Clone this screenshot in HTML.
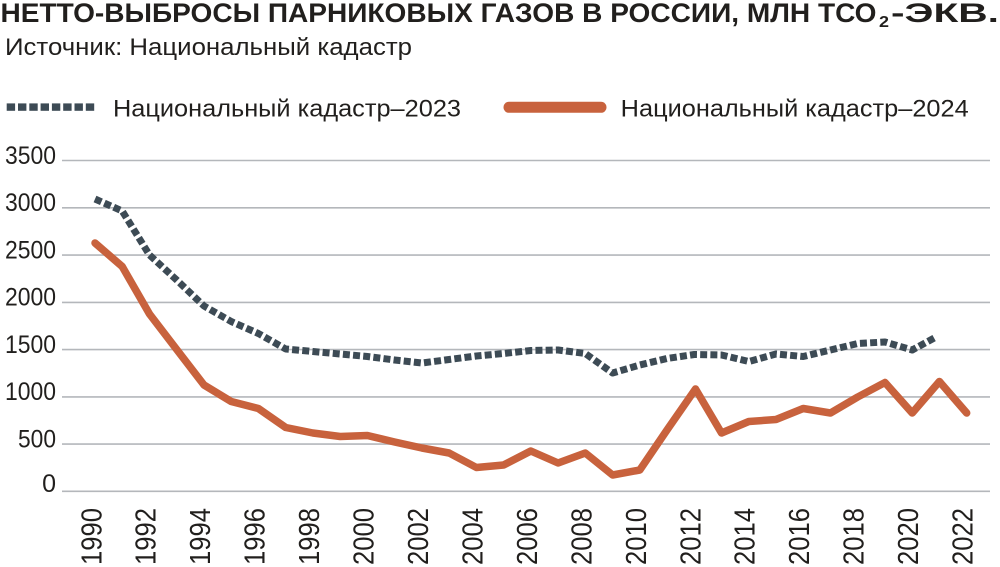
<!DOCTYPE html>
<html>
<head>
<meta charset="utf-8">
<style>
  html, body { margin: 0; padding: 0; background: #ffffff; }
  body { width: 1000px; height: 567px; overflow: hidden; }
  svg { display: block; }
  text { font-family: "Liberation Sans", "DejaVu Sans", sans-serif; fill: #211f1d; }
</style>
</head>
<body>
<svg width="1000" height="567" viewBox="0 0 1000 567" xmlns="http://www.w3.org/2000/svg">
  <rect x="0" y="0" width="1000" height="567" fill="#ffffff"/>

  <!-- Title -->
  <text x="0.5" y="22" font-size="27" font-weight="bold" textLength="876" lengthAdjust="spacingAndGlyphs" fill="#1c1a18">НЕТТО-ВЫБРОСЫ ПАРНИКОВЫХ ГАЗОВ В РОССИИ, МЛН ТСО</text>
  <text x="879" y="27" font-size="16" font-weight="bold" textLength="10" lengthAdjust="spacingAndGlyphs" fill="#1c1a18">2</text>
  <text x="891" y="22" font-size="27" font-weight="bold" textLength="108" lengthAdjust="spacingAndGlyphs" fill="#1c1a18">-ЭКВ.</text>

  <!-- Subtitle -->
  <text x="5" y="55" font-size="24.5" textLength="407" lengthAdjust="spacingAndGlyphs" fill="#2a2725">Источник: Национальный кадастр</text>

  <!-- Legend -->
  <g fill="#3d4b55">
    <rect x="6.7" y="103.4" width="8.4" height="7.4"/>
    <rect x="18" y="103.4" width="8.4" height="7.4"/>
    <rect x="29.3" y="103.4" width="8.4" height="7.4"/>
    <rect x="40.6" y="103.4" width="8.4" height="7.4"/>
    <rect x="51.9" y="103.4" width="8.4" height="7.4"/>
    <rect x="63.2" y="103.4" width="8.4" height="7.4"/>
    <rect x="74.5" y="103.4" width="8.4" height="7.4"/>
    <rect x="85.8" y="103.4" width="8.4" height="7.4"/>
  </g>
  <text x="113" y="116.5" font-size="24.5" textLength="348" lengthAdjust="spacingAndGlyphs" fill="#2a2725">Национальный кадастр–2023</text>
  <line x1="509" y1="107.3" x2="601" y2="107.3" stroke="#c8623d" stroke-width="11" stroke-linecap="round"/>
  <text x="620.7" y="116.5" font-size="24.5" textLength="348" lengthAdjust="spacingAndGlyphs" fill="#2a2725">Национальный кадастр–2024</text>

  <!-- Gridlines -->
  <g stroke="#b4b7bb" stroke-width="1.6">
    <line x1="62" y1="160.5" x2="990" y2="160.5"/>
    <line x1="62" y1="207.8" x2="990" y2="207.8"/>
    <line x1="62" y1="255.1" x2="990" y2="255.1"/>
    <line x1="62" y1="302.4" x2="990" y2="302.4"/>
    <line x1="62" y1="349.6" x2="990" y2="349.6"/>
    <line x1="62" y1="396.9" x2="990" y2="396.9"/>
    <line x1="62" y1="444.1" x2="990" y2="444.1"/>
    <line x1="62" y1="491.3" x2="990" y2="491.3"/>
  </g>

  <!-- Y labels -->
  <g font-size="25" text-anchor="end" fill="#211f1d">
    <text x="56" y="163.8" textLength="51" lengthAdjust="spacingAndGlyphs">3500</text>
    <text x="56" y="211.1" textLength="51" lengthAdjust="spacingAndGlyphs">3000</text>
    <text x="56" y="258.4" textLength="51" lengthAdjust="spacingAndGlyphs">2500</text>
    <text x="56" y="305.7" textLength="51" lengthAdjust="spacingAndGlyphs">2000</text>
    <text x="56" y="352.9" textLength="51" lengthAdjust="spacingAndGlyphs">1500</text>
    <text x="56" y="400.2" textLength="51" lengthAdjust="spacingAndGlyphs">1000</text>
    <text x="56" y="447.4" textLength="38" lengthAdjust="spacingAndGlyphs">500</text>
    <text x="56" y="491.8">0</text>
  </g>

  <!-- X labels (rotated) -->
  <g font-size="29" text-anchor="end" fill="#211f1d">
    <text transform="translate(101.5,508) rotate(-90)" textLength="57" lengthAdjust="spacingAndGlyphs">1990</text>
    <text transform="translate(155.5,508) rotate(-90)" textLength="57" lengthAdjust="spacingAndGlyphs">1992</text>
    <text transform="translate(210.0,508) rotate(-90)" textLength="57" lengthAdjust="spacingAndGlyphs">1994</text>
    <text transform="translate(264.5,508) rotate(-90)" textLength="57" lengthAdjust="spacingAndGlyphs">1996</text>
    <text transform="translate(319.0,508) rotate(-90)" textLength="57" lengthAdjust="spacingAndGlyphs">1998</text>
    <text transform="translate(373.4,508) rotate(-90)" textLength="57" lengthAdjust="spacingAndGlyphs">2000</text>
    <text transform="translate(427.9,508) rotate(-90)" textLength="57" lengthAdjust="spacingAndGlyphs">2002</text>
    <text transform="translate(482.4,508) rotate(-90)" textLength="57" lengthAdjust="spacingAndGlyphs">2004</text>
    <text transform="translate(536.8,508) rotate(-90)" textLength="57" lengthAdjust="spacingAndGlyphs">2006</text>
    <text transform="translate(591.3,508) rotate(-90)" textLength="57" lengthAdjust="spacingAndGlyphs">2008</text>
    <text transform="translate(645.8,508) rotate(-90)" textLength="57" lengthAdjust="spacingAndGlyphs">2010</text>
    <text transform="translate(700.3,508) rotate(-90)" textLength="57" lengthAdjust="spacingAndGlyphs">2012</text>
    <text transform="translate(754.7,508) rotate(-90)" textLength="57" lengthAdjust="spacingAndGlyphs">2014</text>
    <text transform="translate(809.2,508) rotate(-90)" textLength="57" lengthAdjust="spacingAndGlyphs">2016</text>
    <text transform="translate(863.7,508) rotate(-90)" textLength="57" lengthAdjust="spacingAndGlyphs">2018</text>
    <text transform="translate(918.1,508) rotate(-90)" textLength="57" lengthAdjust="spacingAndGlyphs">2020</text>
    <text transform="translate(972.6,508) rotate(-90)" textLength="57" lengthAdjust="spacingAndGlyphs">2022</text>
  </g>

  <!-- Series: Национальный кадастр–2023 (dashed) -->
  <polyline fill="none" stroke="#3d4b55" stroke-width="7" stroke-dasharray="7 3.2" stroke-linejoin="round"
    points="95,199 122.2,211 149.5,255 176.7,280 204,306 231.2,321.5 258.4,333.5 285.7,349 312.9,351.5 340.2,354 367.4,356.5 394.6,360 421.9,363 449.1,359.5 476.4,356 503.6,353.5 530.8,350.5 558.1,350 585.3,353.5 612.6,373 639.8,365 667,358.5 694.3,354.5 721.5,355 748.8,361.5 776,354 803.2,356.5 830.5,350 857.7,343.5 885,342 912.2,350 936,337"/>

  <!-- Series: Национальный кадастр–2024 (solid) -->
  <polyline fill="none" stroke="#c8623d" stroke-width="7.5" stroke-linejoin="round" stroke-linecap="round"
    points="95,243 122.2,266.5 149.5,314 176.7,349.5 204,385 231.2,401.5 258.4,408.5 285.7,427.5 312.9,433 340.2,436.5 367.4,435.5 394.6,442 421.9,448 449.1,453 476.4,467.5 503.6,465 530.8,451 558.1,463 585.3,453 612.6,475 639.8,470 667,430 695.5,389 721.5,433 748.8,421.5 776,419.5 803.2,408.5 830.5,413 857.7,397 885,382.5 912.2,413 939.4,381.5 966.7,413"/>
</svg>
</body>
</html>
